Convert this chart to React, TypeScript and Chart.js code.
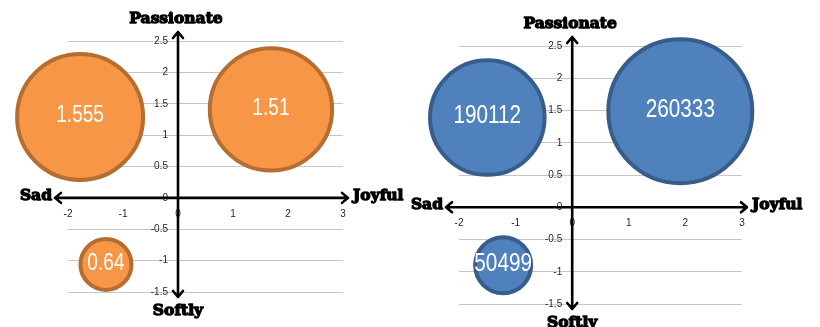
import React, { useEffect, useRef } from 'react';
import { Chart, registerables } from 'chart.js';

Chart.register(...registerables);

// Axis ticks shared by both panels
const X_TICKS = [-2, -1, 0, 1, 2, 3];
const Y_TICKS = [-1.5, -1, -0.5, 0, 0.5, 1, 1.5, 2, 2.5];

// Direction words at the ends of the arrows
const LABEL_UP = 'Passionate';
const LABEL_DOWN = 'Softly';
const LABEL_LEFT = 'Sad';
const LABEL_RIGHT = 'Joyful';

// Left panel: mood scores
const SCORE_X = [-1.78, 1.69, -1.31];
const SCORE_Y = [1.29, 1.41, -1.06];
const SCORE_VALUES = [1.555, 1.51, 0.64];

// Right panel: counts
const COUNT_X = [-1.5, 1.91, -1.22];
const COUNT_Y = [1.39, 1.49, -0.9];
const COUNT_VALUES = [190112, 260333, 50499];

type PanelProps = {
  xs: number[];
  ys: number[];
  values: number[];
  fill: string;
  stroke: string;
  minR: number;
  maxR: number;
  padding: { left: number; right: number; top: number; bottom: number };
  valueFontSize: number;
};

const TITLE_FONT = 'bold 15.5px "DejaVu Serif", serif';

// axes sit on the zero lines, so they must not take room from the plot
const noBoxSize = (s: any) => {
  if (s.isHorizontal()) s.height = 0;
  else s.width = 0;
  s.paddingTop = 0;
  s.paddingBottom = 0;
  s.paddingLeft = 0;
  s.paddingRight = 0;
};

function Panel(props: PanelProps) {
  const ref = useRef<HTMLCanvasElement | null>(null);

  useEffect(() => {
    const canvas = ref.current;
    if (!canvas) return;
    const { xs, ys, values, fill, stroke, minR, maxR, padding, valueFontSize } = props;
    const vMin = Math.min(...values);
    const vMax = Math.max(...values);
    const sizeToRadius = (v: number) => minR + ((maxR - minR) * (v - vMin)) / (vMax - vMin);

    const overlay = {
      id: 'quadrantOverlay',
      afterDatasetsDraw(chart: any) {
        const ctx: CanvasRenderingContext2D = chart.ctx;
        const xs_ = chart.scales.x;
        const ys_ = chart.scales.y;
        const area = chart.chartArea;
        const ox = xs_.getPixelForValue(0);
        const oy = ys_.getPixelForValue(0);
        const topTip = area.top - 9;
        const bottomTip = area.bottom + 5;
        const leftTip = area.left - 13;
        const rightTip = area.right + 5;

        ctx.save();
        ctx.strokeStyle = '#000';
        ctx.lineWidth = 2.6;
        ctx.lineCap = 'round';
        ctx.lineJoin = 'round';
        ctx.beginPath();
        ctx.moveTo(ox, topTip);
        ctx.lineTo(ox, bottomTip);
        ctx.moveTo(leftTip, oy);
        ctx.lineTo(rightTip, oy);
        // arrow heads
        const h = 6;
        const w = 5;
        ctx.moveTo(ox - w, topTip + h);
        ctx.lineTo(ox, topTip);
        ctx.lineTo(ox + w, topTip + h);
        ctx.moveTo(ox - w, bottomTip - h);
        ctx.lineTo(ox, bottomTip);
        ctx.lineTo(ox + w, bottomTip - h);
        ctx.moveTo(leftTip + h, oy - w);
        ctx.lineTo(leftTip, oy);
        ctx.lineTo(leftTip + h, oy + w);
        ctx.moveTo(rightTip - h, oy - w);
        ctx.lineTo(rightTip, oy);
        ctx.lineTo(rightTip - h, oy + w);
        ctx.stroke();

        // heavy direction words
        ctx.fillStyle = '#000';
        ctx.strokeStyle = '#000';
        ctx.lineWidth = 1.3;
        ctx.font = TITLE_FONT;
        ctx.textBaseline = 'middle';
        const word = (t: string, x: number, y: number, align: CanvasTextAlign) => {
          ctx.textAlign = align;
          ctx.fillText(t, x, y);
          ctx.strokeText(t, x, y);
        };
        word(LABEL_UP, ox - 2, topTip - 13, 'center');
        word(LABEL_DOWN, ox, bottomTip + 14, 'center');
        word(LABEL_LEFT, leftTip - 3, oy - 2, 'right');
        word(LABEL_RIGHT, rightTip + 5, oy - 2, 'left');

        // value labels centred in the bubbles, narrow figures
        const meta = chart.getDatasetMeta(0);
        ctx.fillStyle = '#ffffff';
        ctx.textAlign = 'center';
        ctx.font = `${valueFontSize}px "Liberation Sans", sans-serif`;
        const squeeze = 0.83;
        meta.data.forEach((el: any, i: number) => {
          ctx.save();
          ctx.translate(el.x, el.y - 1);
          ctx.scale(squeeze, 1);
          ctx.fillText(String(values[i]), 0, 0);
          ctx.restore();
        });
        ctx.restore();
      },
    };

    const tickFont = { family: '"Liberation Sans", sans-serif', size: 10 };

    const chart = new Chart(canvas, {
      type: 'bubble',
      data: {
        datasets: [
          {
            data: xs.map((x, i) => ({ x, y: ys[i], r: sizeToRadius(values[i]) })),
            backgroundColor: fill,
            borderColor: stroke,
            borderWidth: 4,
            hoverBorderWidth: 4,
            clip: false,
          },
        ],
      },
      options: {
        animation: false,
        responsive: false,
        maintainAspectRatio: false,
        events: [],
        layout: { padding, autoPadding: false },
        plugins: { legend: { display: false }, tooltip: { enabled: false } },
        scales: {
          x: {
            type: 'linear',
            min: -2,
            max: 3,
            position: { y: 0 } as any,
            afterBuildTicks: (s: any) => {
              s.ticks = X_TICKS.map((value) => ({ value }));
            },
            afterFit: noBoxSize,
            ticks: { font: tickFont, color: '#262626', padding: 10, maxRotation: 0 },
            grid: { display: false, drawTicks: false },
            border: { display: false },
          },
          y: {
            type: 'linear',
            min: -1.5,
            max: 2.5,
            position: { x: 0 } as any,
            afterBuildTicks: (s: any) => {
              s.ticks = Y_TICKS.map((value) => ({ value }));
            },
            afterFit: noBoxSize,
            ticks: {
              font: tickFont,
              color: '#262626',
              // keep the figures clear of the vertical arrow
              callback: (v: any) => `${v}\u2002\u2002`,
            },
            grid: { color: '#c6c6c6', lineWidth: 1, drawTicks: false },
            border: { display: false },
          },
        },
      },
      plugins: [overlay],
    } as any);

    return () => chart.destroy();
  }, []);

  return <canvas ref={ref} width={410} height={327} style={{ display: 'block', width: 410, height: 327 }} />;
}

export default function App() {
  return (
    <div style={{ position: 'absolute', left: 0, top: 0, width: 820, height: 327, display: 'flex', background: '#fff' }}>
      <Panel
        xs={SCORE_X}
        ys={SCORE_Y}
        values={SCORE_VALUES}
        fill="#F79646"
        stroke="#B66D31"
        minR={25.5}
        maxR={63}
        padding={{ left: 68, right: 67, top: 41, bottom: 35 }}
        valueFontSize={23}
      />
      <Panel
        xs={COUNT_X}
        ys={COUNT_Y}
        values={COUNT_VALUES}
        fill="#4F81BD"
        stroke="#385D8A"
        minR={28}
        maxR={72}
        padding={{ left: 49, right: 78, top: 46, bottom: 23 }}
        valueFontSize={25}
      />
    </div>
  );
}
